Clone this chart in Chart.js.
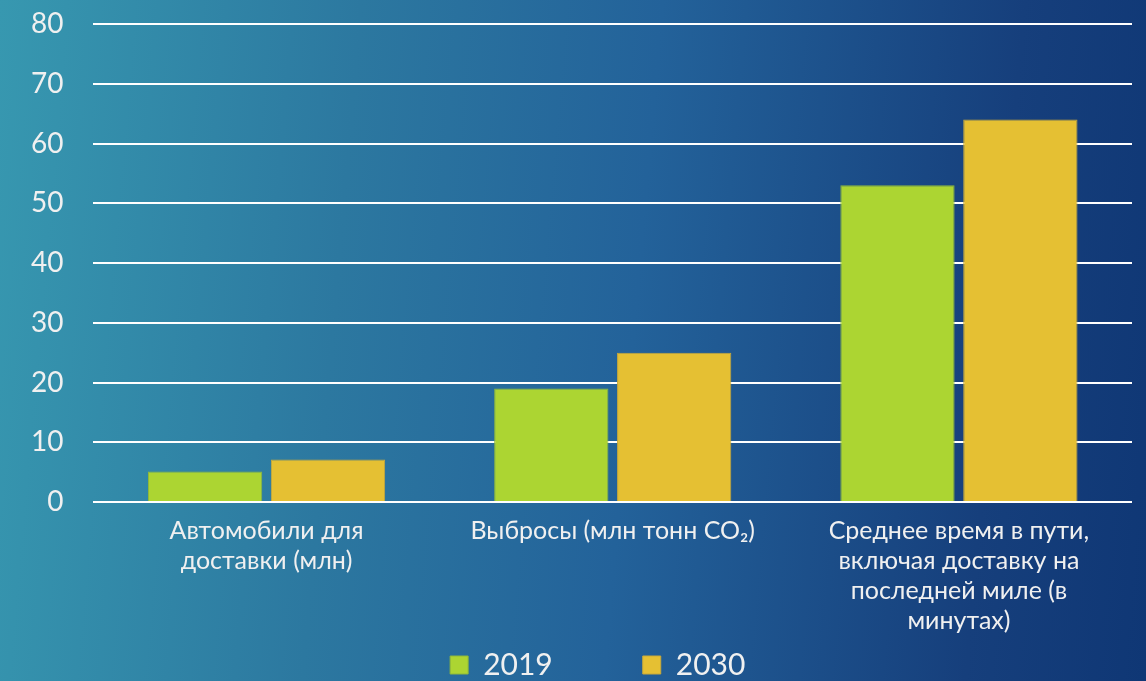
<!DOCTYPE html>
<html>
<head>
<meta charset="utf-8">
<script src="https://cdn.jsdelivr.net/npm/chart.js@4/dist/chart.umd.min.js"></script>
<style>
  html, body { margin: 0; padding: 0; }
  body {
    width: 1146px; height: 681px; overflow: hidden;
    background: linear-gradient(95deg, #3798b0 0%, #2c78a0 30%, #23629a 55%, #163f7c 85%, #0f3775 100%);
  }
  #wrap { position: relative; width: 1146px; height: 681px; }
</style>
</head>
<body>
<div id="wrap"><canvas id="chart"></canvas></div>
<script>
const categories = [
  ['Автомобили для', 'доставки (млн)'],
  ['Выбросы (млн тонн CO₂)'],
  ['Среднее время в пути,', 'включая доставку на', 'последней миле (в', 'минутах)']
];
const seriesNames = ['2019', '2030'];
const values2019 = [5.1, 19, 53];
const values2030 = [7.1, 25, 64];
const yTicks = [0, 10, 20, 30, 40, 50, 60, 70, 80];

const fontFamily = 'Lato, "Open Sans", sans-serif';
const textColor = '#f0f0f0';

const ctx = document.getElementById('chart').getContext('2d');
const chart = new Chart(ctx, {
  type: 'bar',
  data: {
    labels: categories,
    datasets: [{
      label: seriesNames[0],
      data: values2019,
      backgroundColor: '#acd532',
      borderColor: '#8fb83a',
      borderWidth: 1,
      borderSkipped: 'bottom'
    }, {
      label: seriesNames[1],
      data: values2030,
      backgroundColor: '#e5c033',
      borderColor: '#c9a93a',
      borderWidth: 1,
      borderSkipped: 'bottom'
    }]
  },
  options: {
    responsive: true,
    maintainAspectRatio: false,
    animation: false,
    categoryPercentage: 0.71,
    barPercentage: 0.93,
    layout: { padding: { top: 0, right: 14, left: 1, bottom: -9 } },
    scales: {
      x: {
        grid: { display: false, drawTicks: false },
        border: { display: false },
        ticks: {
          color: textColor,
          font: { family: fontFamily, size: 25, lineHeight: 1.2 },
          padding: 14,
          maxRotation: 0,
          autoSkip: false
        }
      },
      y: {
        min: 0,
        max: 80,
        afterBuildTicks: (axis) => { axis.ticks = yTicks.map(v => ({ value: v })); },
        // tick padding is for the horizontal gap only, not above/below the plot
        afterFit: (axis) => { axis.paddingTop = 24; axis.paddingBottom = 17; },
        grid: { color: '#ffffff', lineWidth: 2, drawTicks: false },
        border: { display: false },
        ticks: {
          color: textColor,
          font: { family: fontFamily, size: 28 },
          padding: 30
        }
      }
    },
    plugins: {
      legend: {
        position: 'bottom',
        fullSize: false,
        labels: {
          color: textColor,
          font: { family: fontFamily, size: 30 },
          boxWidth: 18,
          boxHeight: 18,
          padding: 0,
          useBorderRadius: false,
          // widen the gap between the two legend entries
          generateLabels: (c) => Chart.defaults.plugins.legend.labels.generateLabels(c).map((item, i) => {
            item.text = item.text + '\u2002'.repeat(i === 0 ? 6 : 2);
            return item;
          })
        }
      },
      tooltip: { enabled: false }
    }
  }
});
</script>
</body>
</html>
